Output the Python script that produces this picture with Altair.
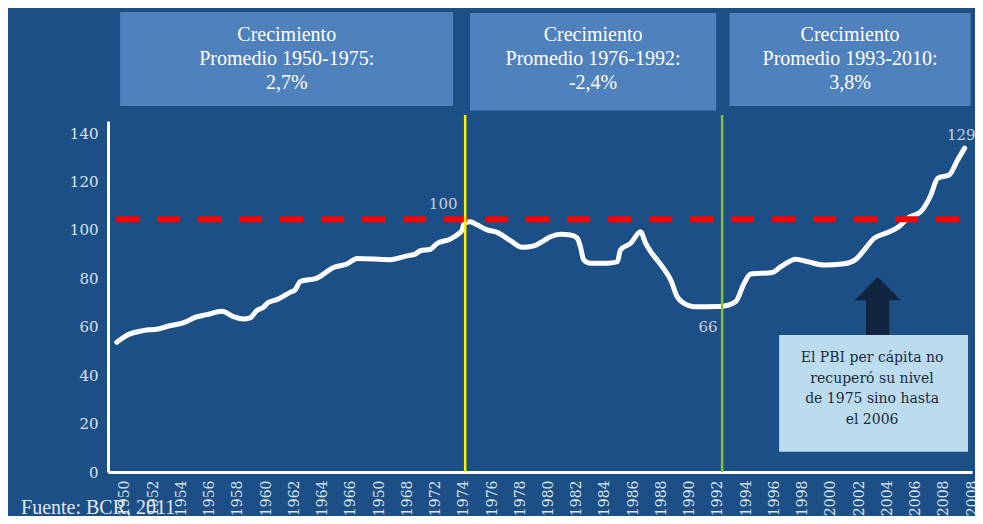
import altair as alt
import pandas as pd

# ---------------- data ----------------
etiquetas_x = ["1950", "1952", "1954", "1956", "1958", "1960", "1962", "1964", "1966",
               "1950", "1968", "1972", "1974", "1976", "1978", "1980", "1982", "1984",
               "1986", "1988", "1990", "1992", "1994", "1996", "1998", "2000", "2002",
               "2004", "2006", "2008", "2008"]

# position along the category axis (1 unit = 1 label) and GDP per capita index
posicion = [-0.29, 0.06, 0.65, 1.18, 1.48, 2.13, 2.48, 2.90, 3.43, 3.84, 4.19, 4.43, 4.67,
            4.90, 5.08, 5.38, 5.85, 6.03, 6.21, 6.80, 7.39, 7.86, 8.22, 9.40, 9.99, 10.28,
            10.46, 10.82, 11.05, 11.52, 11.82, 11.94, 12.02, 12.23, 12.47, 12.83, 13.18,
            13.65, 14.07, 14.48, 14.72, 15.07, 15.43, 15.78, 16.02, 16.13, 16.25, 16.49,
            17.08, 17.44, 17.55, 17.91, 18.26, 18.44, 18.62, 18.85, 19.03, 19.33, 19.56,
            19.80, 20.15, 21.10, 21.63, 21.93, 22.16, 22.93, 23.23, 23.76, 24.17, 24.76,
            25.47, 25.89, 26.18, 26.54, 27.01, 27.42, 27.72, 28.19, 28.52, 28.79, 29.19,
            29.49, 29.74]
pbi = [53.6, 56.4, 58.4, 59.1, 60.1, 61.9, 63.9, 65.0, 66.4, 64.2, 63.2, 63.7, 66.7,
       68.0, 70.1, 71.2, 74.2, 75.3, 78.7, 80.1, 84.5, 85.9, 88.2, 87.7, 89.3, 90.0,
       91.4, 92.0, 94.4, 96.2, 98.5, 99.9, 102.8, 103.4, 102.1, 100.0, 99.0,
       95.6, 92.8, 93.4, 94.8, 97.2, 98.2, 97.9, 96.6, 93.1, 87.6, 86.2,
       86.2, 86.9, 91.7, 94.5, 99.3, 94.5, 91.0, 87.6, 84.8, 79.3, 72.4,
       69.7, 68.3, 68.4, 70.4, 78.0, 81.8, 82.4, 84.8, 87.9, 86.9, 85.5,
       86.0, 87.9, 91.7, 96.6, 98.9, 101.4, 104.8, 107.6, 113.8, 121.4, 122.7,
       128.9, 133.8]

valores_y = [0, 20, 40, 60, 80, 100, 120, 140]

nivel_1975 = 104.4

cortes_pos = [12.05, 21.15]
cortes_color = ["#FFF200", "#8DBE2D"]

etiquetas_valor = ["100", "66", "129"]

periodos = ["Crecimiento\nPromedio 1950-1975:\n2,7%",
            "Crecimiento\nPromedio 1976-1992:\n-2,4%",
            "Crecimiento\nPromedio 1993-2010:\n3,8%"]

nota = "El PBI per cápita no\nrecuperó su nivel\nde 1975 sino hasta\nel 2006"
fuente = "Fuente: BCR, 2011"

# ---------------- styling ----------------
BG = "#1B4F85"
BOX = "#4F81BD"
GRIS = "#DCE3EC"

xs = alt.Scale(domain=[-0.6, 30.0], nice=False, zero=False)
ys = alt.Scale(domain=[0, 145], nice=False, zero=False)

label_expr = "[" + ",".join("'%s'" % l for l in etiquetas_x) + "][datum.value]"

AX_X = alt.Axis(values=list(range(len(etiquetas_x))), labelExpr=label_expr,
                labelAngle=270, labelFont="DejaVu Serif", labelFontSize=14,
                labelColor=GRIS, labelPadding=8, labelOverlap=False,
                labelFlush=False, ticks=False, grid=False, title=None,
                domainColor="white", domainWidth=3)
AX_Y = alt.Axis(values=valores_y, labelFont="DejaVu Serif", labelFontSize=15,
                labelColor=GRIS, labelPadding=10, ticks=False, grid=False, title=None,
                domainColor="white", domainWidth=3)


def X(field):
    return alt.X(field, scale=xs, axis=AX_X, title=None)


def Y(field):
    return alt.Y(field, scale=ys, axis=AX_Y, title=None)


linea = pd.DataFrame({"posicion": posicion, "pbi": pbi})

serie = alt.Chart(linea).mark_line(
    color="white", strokeWidth=5, interpolate="monotone",
    strokeCap="round", strokeJoin="round"
).encode(x=X("posicion:Q"), y=Y("pbi:Q"))

# red dashed reference line
ref = pd.DataFrame({"x": [-0.31], "x2": [29.74], "y": [nivel_1975]})
discontinua = alt.Chart(ref).mark_rule(
    color="#FF0000", strokeWidth=6, strokeDash=[23, 18]
).encode(x=X("x:Q"), x2="x2:Q", y=Y("y:Q"))

# vertical period separators
cortes = pd.DataFrame({"x": cortes_pos, "c": cortes_color, "top": [147.5, 147.5], "bot": [0, 0]})
verticales = alt.Chart(cortes).mark_rule(strokeWidth=2.5).encode(
    x=X("x:Q"), y=Y("top:Q"), y2="bot:Q",
    color=alt.Color("c:N", scale=None))

# period boxes
cajas = pd.DataFrame({
    "x": [-0.17, 12.22, 21.41], "x2": [11.62, 20.94, 29.95],
    "y": [190.0, 189.6, 189.6], "y2": [151.2, 149.3, 151.2],
    "cx": [5.73, 16.58, 25.68], "ty": [177.9, 177.9, 177.9],
    "texto": periodos})
rect_cajas = alt.Chart(cajas).mark_rect(color=BOX).encode(
    x=X("x:Q"), x2="x2:Q", y=Y("y:Q"), y2="y2:Q")
texto_cajas = alt.Chart(cajas).mark_text(
    font="Liberation Serif", fontSize=20, color="white", align="center",
    baseline="alphabetic", lineBreak="\n", lineHeight=24
).encode(x=X("cx:Q"), y=Y("ty:Q"), text="texto:N")

# value labels
etq = pd.DataFrame({"x": [11.27, 20.65, 29.62], "y": [110.7, 59.9, 139.2],
                    "t": etiquetas_valor})
textos_valor = alt.Chart(etq).mark_text(
    font="DejaVu Serif", fontSize=15, color="#C8D2DE", align="center", baseline="middle"
).encode(x=X("x:Q"), y=Y("y:Q"), text="t:N")

# arrow
flecha_df = pd.DataFrame({"x": [26.66], "y": [68.6]})
flecha = alt.Chart(flecha_df).mark_point(
    shape="M0,-1L0.79,-0.2L0.4,-0.2L0.4,1L-0.4,1L-0.4,-0.2L-0.79,-0.2Z",
    size=3364, filled=True, color="#11253F", opacity=1, strokeWidth=0
).encode(x=X("x:Q"), y=Y("y:Q"))

# annotation box
nota_df = pd.DataFrame({"x": [23.17], "x2": [29.86], "y": [56.6], "y2": [8.4],
                        "cx": [26.46], "ty": [45.4], "t": [nota]})
caja_nota = alt.Chart(nota_df).mark_rect(color="#BBDCEF").encode(
    x=X("x:Q"), x2="x2:Q", y=Y("y:Q"), y2="y2:Q")
texto_nota = alt.Chart(nota_df).mark_text(
    font="DejaVu Serif", fontSize=14, color="#1A2A3F", align="center",
    baseline="alphabetic", lineBreak="\n", lineHeight=20.5
).encode(x=X("cx:Q"), y=Y("ty:Q"), text="t:N")

# source
fuente_df = pd.DataFrame({"x": [-3.68], "y": [-17.5], "t": [fuente]})
texto_fuente = alt.Chart(fuente_df).mark_text(
    font="Liberation Serif", fontSize=20, color="#E4E8EE", align="left",
    baseline="alphabetic"
).encode(x=X("x:Q"), y=Y("y:Q"), text="t:N")

chart = alt.layer(
    serie, rect_cajas, texto_cajas, discontinua, verticales, textos_valor,
    flecha, caja_nota, texto_nota, texto_fuente
).properties(
    width=864, height=351,
    padding={"left": 100, "top": 113, "right": 3, "bottom": 44},
    autosize=alt.AutoSizeParams(type="none"),
    background=BG,
).configure_view(stroke=None)

chart.save("out.html", embed_options={"renderer": "svg", "actions": False})
